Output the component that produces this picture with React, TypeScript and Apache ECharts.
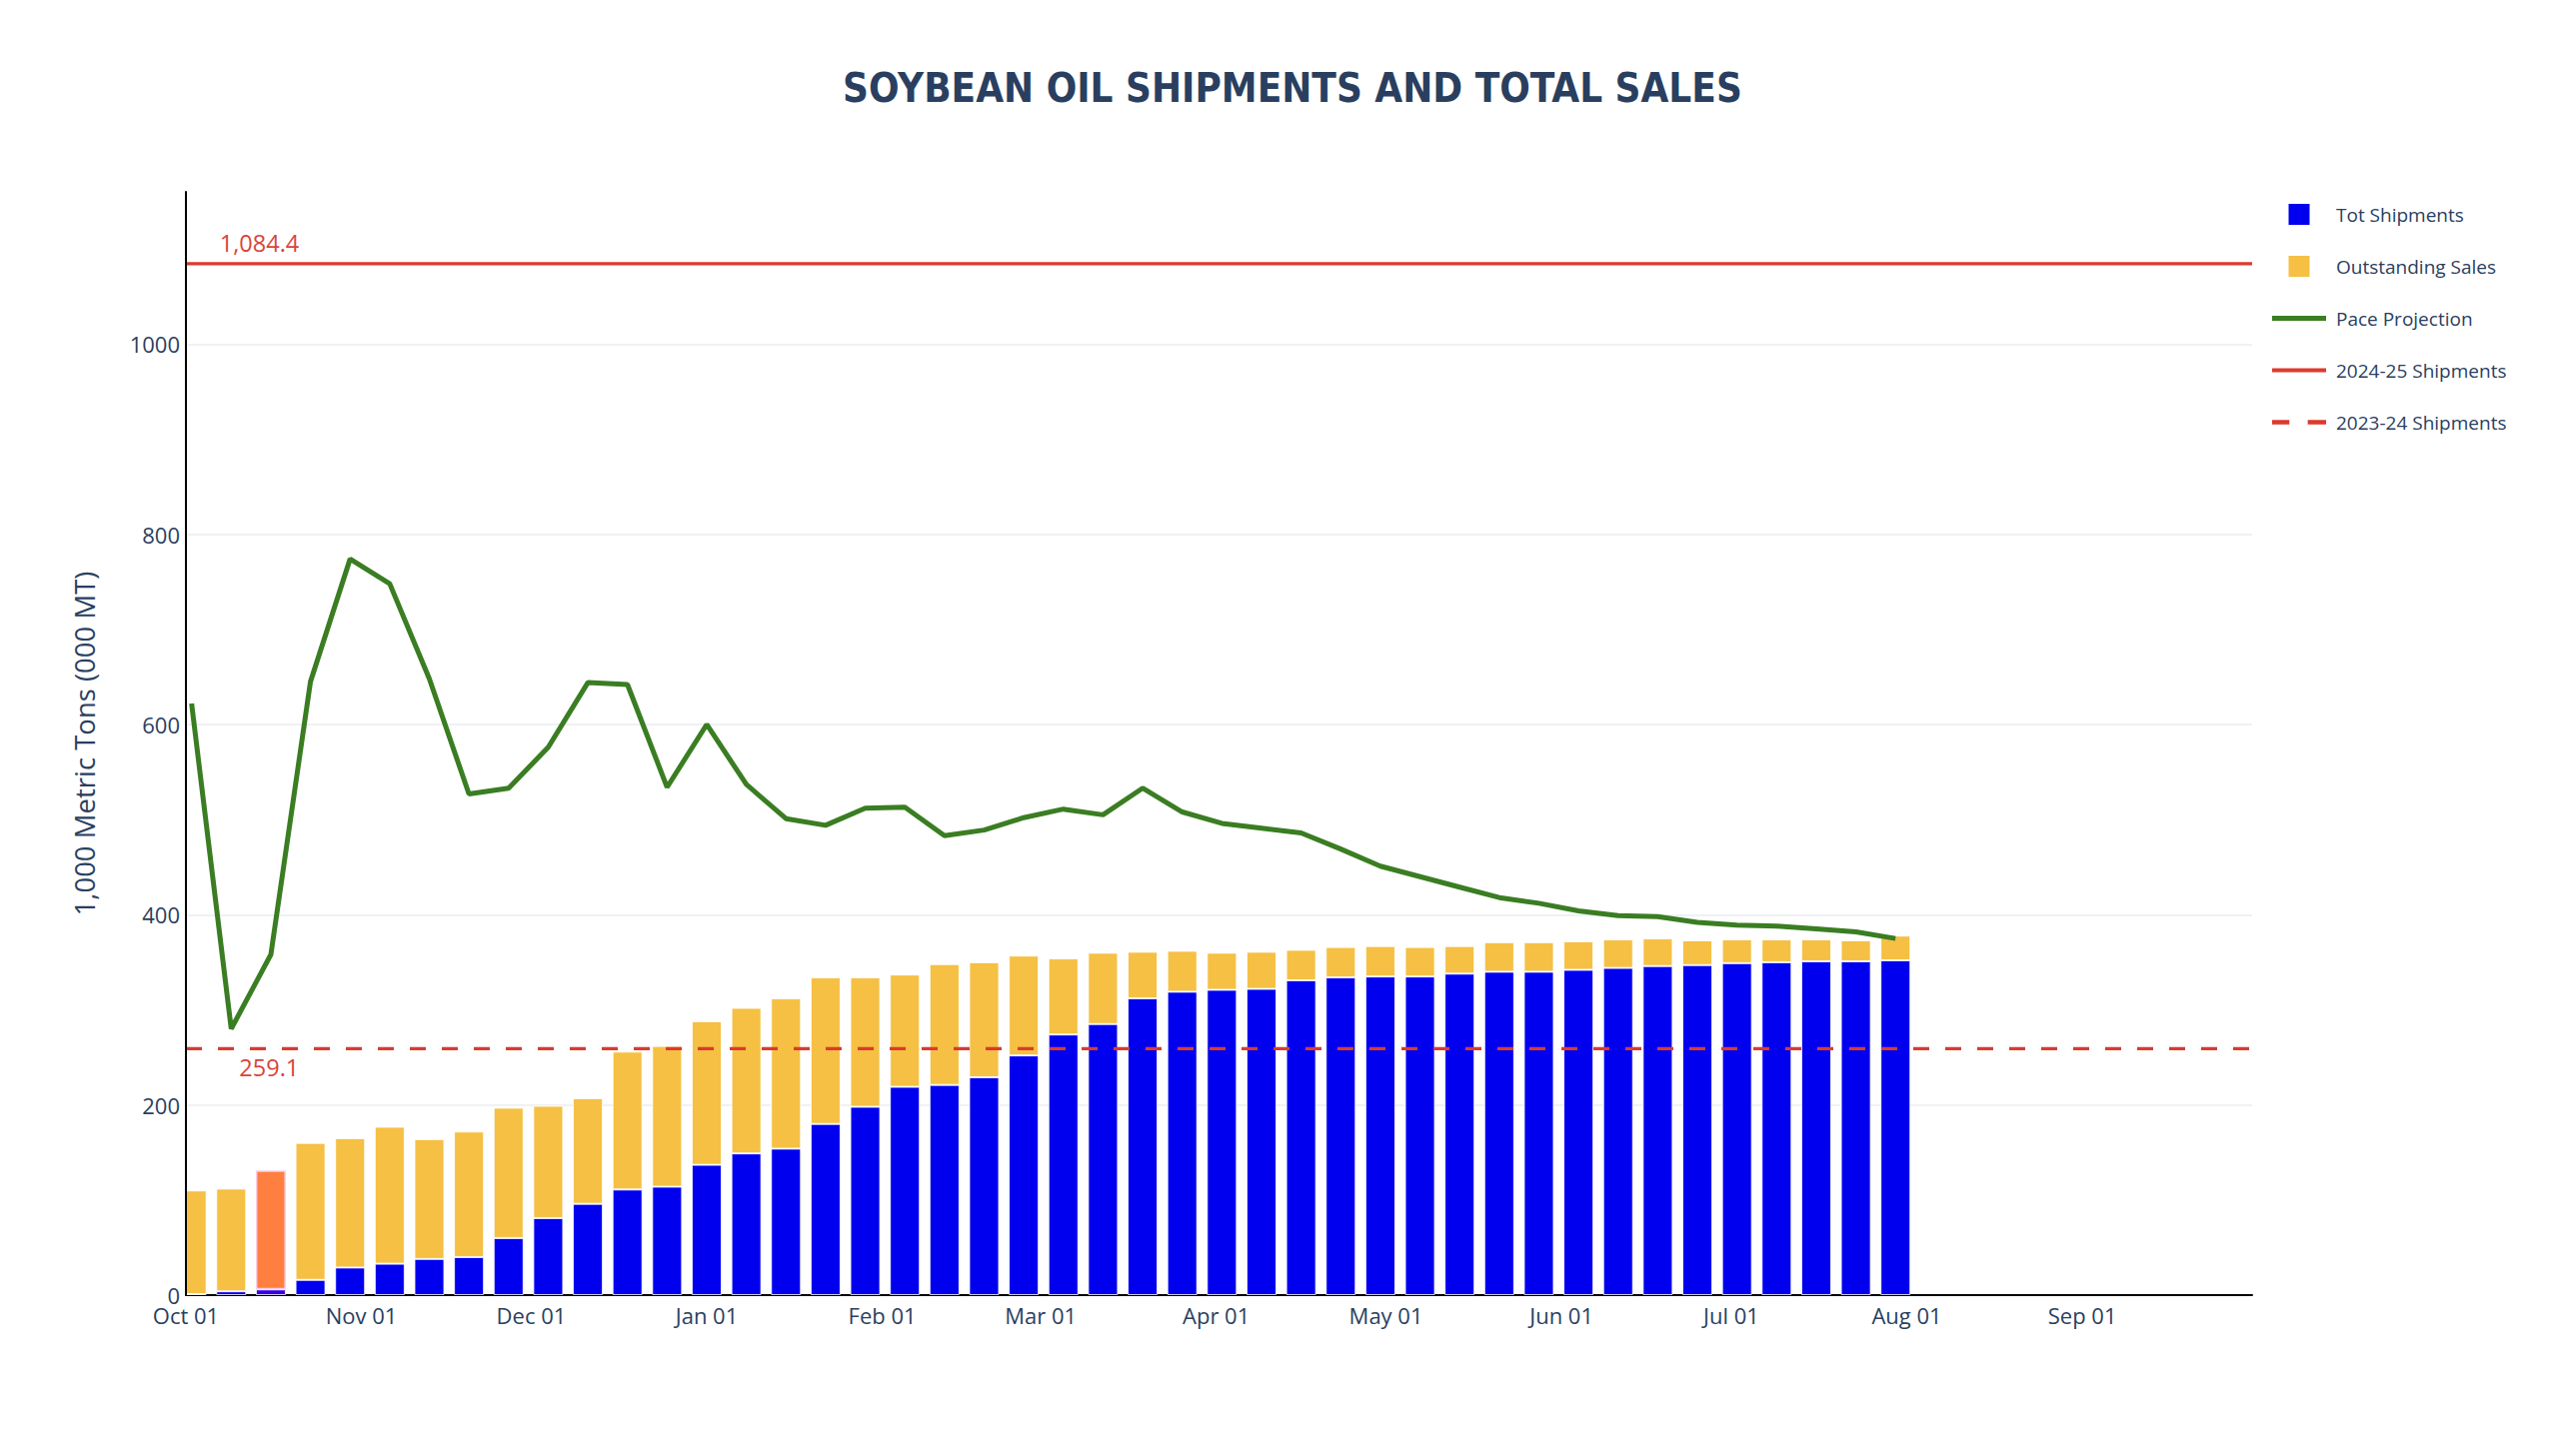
import React, { useEffect, useRef } from "react";
import * as echarts from "echarts";

// ---- data ----
const weekDates = [
  "2025-10-02", "2025-10-09", "2025-10-16", "2025-10-23", "2025-10-30",
  "2025-11-06", "2025-11-13", "2025-11-20", "2025-11-27",
  "2025-12-04", "2025-12-11", "2025-12-18", "2025-12-25",
  "2026-01-01", "2026-01-08", "2026-01-15", "2026-01-22", "2026-01-29",
  "2026-02-05", "2026-02-12", "2026-02-19", "2026-02-26",
  "2026-03-05", "2026-03-12", "2026-03-19", "2026-03-26",
  "2026-04-02", "2026-04-09", "2026-04-16", "2026-04-23", "2026-04-30",
  "2026-05-07", "2026-05-14", "2026-05-21", "2026-05-28",
  "2026-06-04", "2026-06-11", "2026-06-18", "2026-06-25",
  "2026-07-02", "2026-07-09", "2026-07-16", "2026-07-23", "2026-07-30",
];

const totShipments = [
  1, 4, 6, 16, 29, 33, 38, 40, 60, 81, 96, 111, 114, 137, 149, 154, 180, 198,
  219, 221, 229, 252, 274, 285, 312, 319, 321, 322, 331, 334, 335, 335, 338,
  340, 340, 342, 344, 346, 347, 349, 350, 351, 351, 352,
];

const outstandingSales = [
  109, 108, 125, 144, 136, 144, 126, 132, 137, 118, 111, 145, 148, 151, 153,
  158, 154, 136, 118, 127, 121, 105, 80, 75, 49, 43, 39, 39, 32, 32, 32, 31,
  29, 31, 31, 30, 30, 29, 26, 25, 24, 23, 22, 26,
];

const paceProjection = [
  622, 280, 358, 645, 774, 748, 648, 527, 533, 576, 644, 642, 534, 600, 537,
  501, 494, 512, 513, 483, 489, 502, 511, 505, 533, 508, 496, 491, 486, 469,
  451, 440, 429, 418, 412, 404, 399, 398, 392, 389, 388, 385, 382, 375,
];

const highlightIndex = 2;
const shipments2425 = 1084.4;
const shipments2324 = 259.1;

const axisStart = "2025-10-01";
const axisEnd = "2026-10-01";
const annotationDate = "2025-10-21";
const xTickDates = [
  "2025-10-01", "2025-11-01", "2025-12-01", "2026-01-01", "2026-02-01",
  "2026-03-01", "2026-04-01", "2026-05-01", "2026-06-01", "2026-07-01",
  "2026-08-01", "2026-09-01",
];
const yTicks = [0, 200, 400, 600, 800, 1000];
const yMax = 1160;
const MONTHS = ["Jan", "Feb", "Mar", "Apr", "May", "Jun", "Jul", "Aug", "Sep", "Oct", "Nov", "Dec"];

function ts(s: string): number {
  const [y, m, d] = s.split("-").map(Number);
  return new Date(y, m - 1, d).getTime();
}

const TEXT = "#2a3f5f";
const FONT = "'Open Sans', 'Noto Sans', sans-serif";
const BLUE = "#0000EE";
const YELLOW = "#F5C043";
const ORANGE = "#FF7F40";
const HL_BLUE = "#3300E6";
const GREEN = "#3A7D22";
const RED = "#DC3A2E";
const RED_TEXT = "#D8443C";

const GRID_LEFT = 186;
const GRID_BOTTOM = 161;
const PAGE_H = 1457;

export default function App() {
  const ref = useRef<HTMLDivElement>(null);

  useEffect(() => {
    document.body.style.margin = "0";
    if (!ref.current) return;
    const chart = echarts.init(ref.current, null, { renderer: "svg" });

    const fmtNum = (v: number) =>
      v.toLocaleString("en-US", { minimumFractionDigits: 1, maximumFractionDigits: 1 });

    // value first, date second, so that the stack runs on the value dimension
    const shipData = weekDates.map((d, i) =>
      i === highlightIndex
        ? { value: [totShipments[i], ts(d)], itemStyle: { color: HL_BLUE } }
        : { value: [totShipments[i], ts(d)] }
    );
    const outData = weekDates.map((d, i) =>
      i === highlightIndex
        ? {
            value: [outstandingSales[i], ts(d)],
            itemStyle: { color: ORANGE, borderColor: "#f9cfe9", borderWidth: 1.5 },
          }
        : { value: [outstandingSales[i], ts(d)] }
    );
    const paceData = weekDates.map((d, i) => [ts(d), paceProjection[i]]);
    const xTicks = xTickDates.map(ts);
    const barDims = ["val", "date"];

    const option: any = {
      animation: false,
      backgroundColor: "#ffffff",
      title: {
        text: "SOYBEAN OIL SHIPMENTS AND TOTAL SALES",
        left: 843,
        top: 68,
        padding: 0,
        textStyle: {
          fontFamily: "'DejaVu Sans Condensed', 'Liberation Sans', sans-serif",
          fontWeight: "bold",
          fontSize: 40,
          color: TEXT,
        },
      },
      legend: {
        orient: "vertical",
        left: 2273,
        top: 204,
        padding: 0,
        itemWidth: 54,
        itemHeight: 21,
        itemGap: 31,
        itemStyle: { borderWidth: 0 },
        textStyle: {
          color: TEXT,
          fontSize: 19,
          fontFamily: FONT,
          lineHeight: 21,
          padding: [0, 0, 0, 5],
        },
        data: [
          { name: "Tot Shipments", icon: "path://M0,0h21v21h-21z" },
          { name: "Outstanding Sales", icon: "path://M0,0h21v21h-21z" },
          { name: "Pace Projection", icon: "path://M0,0h54v5h-54z" },
          { name: "2024-25 Shipments", icon: "path://M0,0h54v4h-54z" },
          { name: "2023-24 Shipments", icon: "path://M0,0h16v4h-16z M33,0h17v4h-17z" },
        ],
      },
      // white mask left of the y-axis so the first bar stops at the axis, as in the reference
      graphic: [
        {
          type: "rect",
          z: 4,
          silent: true,
          shape: { x: GRID_LEFT - 46, y: PAGE_H - GRID_BOTTOM - 150, width: 45, height: 149 },
          style: { fill: "#ffffff" },
        },
      ],
      grid: { left: GRID_LEFT, right: 307, top: 192, bottom: GRID_BOTTOM, containLabel: false },
      xAxis: {
        type: "value",
        min: ts(axisStart),
        max: ts(axisEnd),
        axisLine: { show: true, onZero: false, lineStyle: { color: "#000", width: 2 } },
        axisTick: { show: false, customValues: xTicks },
        axisLabel: {
          customValues: xTicks,
          formatter: (v: number) => {
            const d = new Date(v);
            return MONTHS[d.getMonth()] + " " + String(d.getDate()).padStart(2, "0");
          },
          color: TEXT,
          fontSize: 22,
          fontFamily: FONT,
          margin: 9,
        },
        splitLine: { show: false },
      },
      yAxis: [
        {
          type: "value",
          z: 5,
          min: 0,
          max: yMax,
          name: "1,000 Metric Tons (000 MT)",
          nameLocation: "middle",
          nameGap: 88,
          nameTextStyle: { color: TEXT, fontSize: 27.5, fontFamily: FONT },
          axisLine: { show: true, lineStyle: { color: "#000", width: 2 } },
          axisTick: { show: false, customValues: yTicks },
          axisLabel: {
            customValues: yTicks,
            formatter: (v: number) => String(v),
            color: TEXT,
            fontSize: 22,
            fontFamily: FONT,
            margin: 6,
          },
          splitLine: { show: false },
        },
        {
          // grid lines only, kept beneath the bars
          type: "value",
          z: 0,
          min: 0,
          max: yMax,
          position: "left",
          axisLine: { show: false },
          axisTick: { show: false, customValues: yTicks },
          axisLabel: { show: false, customValues: yTicks },
          splitLine: { show: true, lineStyle: { color: "#ebedf0", width: 1.5 } },
        },
      ],
      series: [
        {
          name: "Tot Shipments",
          type: "bar",
          stack: "total",
          barWidth: 30,
          color: BLUE,
          dimensions: barDims,
          encode: { x: "date", y: "val" },
          itemStyle: { color: BLUE, borderColor: "rgba(255,255,255,0.8)", borderWidth: 1 },
          data: shipData,
        },
        {
          name: "Outstanding Sales",
          type: "bar",
          stack: "total",
          barWidth: 30,
          color: YELLOW,
          dimensions: barDims,
          encode: { x: "date", y: "val" },
          itemStyle: { color: YELLOW, borderColor: "rgba(255,255,255,0.8)", borderWidth: 1 },
          data: outData,
        },
        {
          name: "Pace Projection",
          type: "line",
          color: GREEN,
          symbol: "none",
          lineStyle: { color: GREEN, width: 5 },
          data: paceData,
        },
        {
          name: "2024-25 Shipments",
          type: "line",
          color: RED,
          symbol: "none",
          silent: true,
          lineStyle: { color: RED, width: 3.3 },
          data: [
            [ts(axisStart), shipments2425],
            [ts(axisEnd), shipments2425],
          ],
          markPoint: {
            symbol: "circle",
            symbolSize: 1,
            silent: true,
            itemStyle: { color: "rgba(0,0,0,0)" },
            label: {
              show: true,
              position: "inside",
              align: "right",
              verticalAlign: "middle",
              offset: [0, -21],
              color: RED_TEXT,
              fontSize: 23.5,
              fontFamily: FONT,
              formatter: () => fmtNum(shipments2425),
            },
            data: [{ coord: [ts(annotationDate), shipments2425] }],
          },
        },
        {
          name: "2023-24 Shipments",
          type: "line",
          color: RED,
          symbol: "none",
          silent: true,
          lineStyle: { color: RED, width: 3.3, type: [16, 16] },
          data: [
            [ts(axisStart), shipments2324],
            [ts(axisEnd), shipments2324],
          ],
          markPoint: {
            symbol: "circle",
            symbolSize: 1,
            silent: true,
            itemStyle: { color: "rgba(0,0,0,0)" },
            label: {
              show: true,
              position: "inside",
              align: "right",
              verticalAlign: "middle",
              offset: [0, 19],
              color: RED_TEXT,
              fontSize: 23.5,
              fontFamily: FONT,
              formatter: () => fmtNum(shipments2324),
            },
            data: [{ coord: [ts(annotationDate), shipments2324] }],
          },
        },
      ],
    };

    chart.setOption(option);
    return () => chart.dispose();
  }, []);

  return <div ref={ref} style={{ width: "100vw", height: "100vh" }} />;
}
